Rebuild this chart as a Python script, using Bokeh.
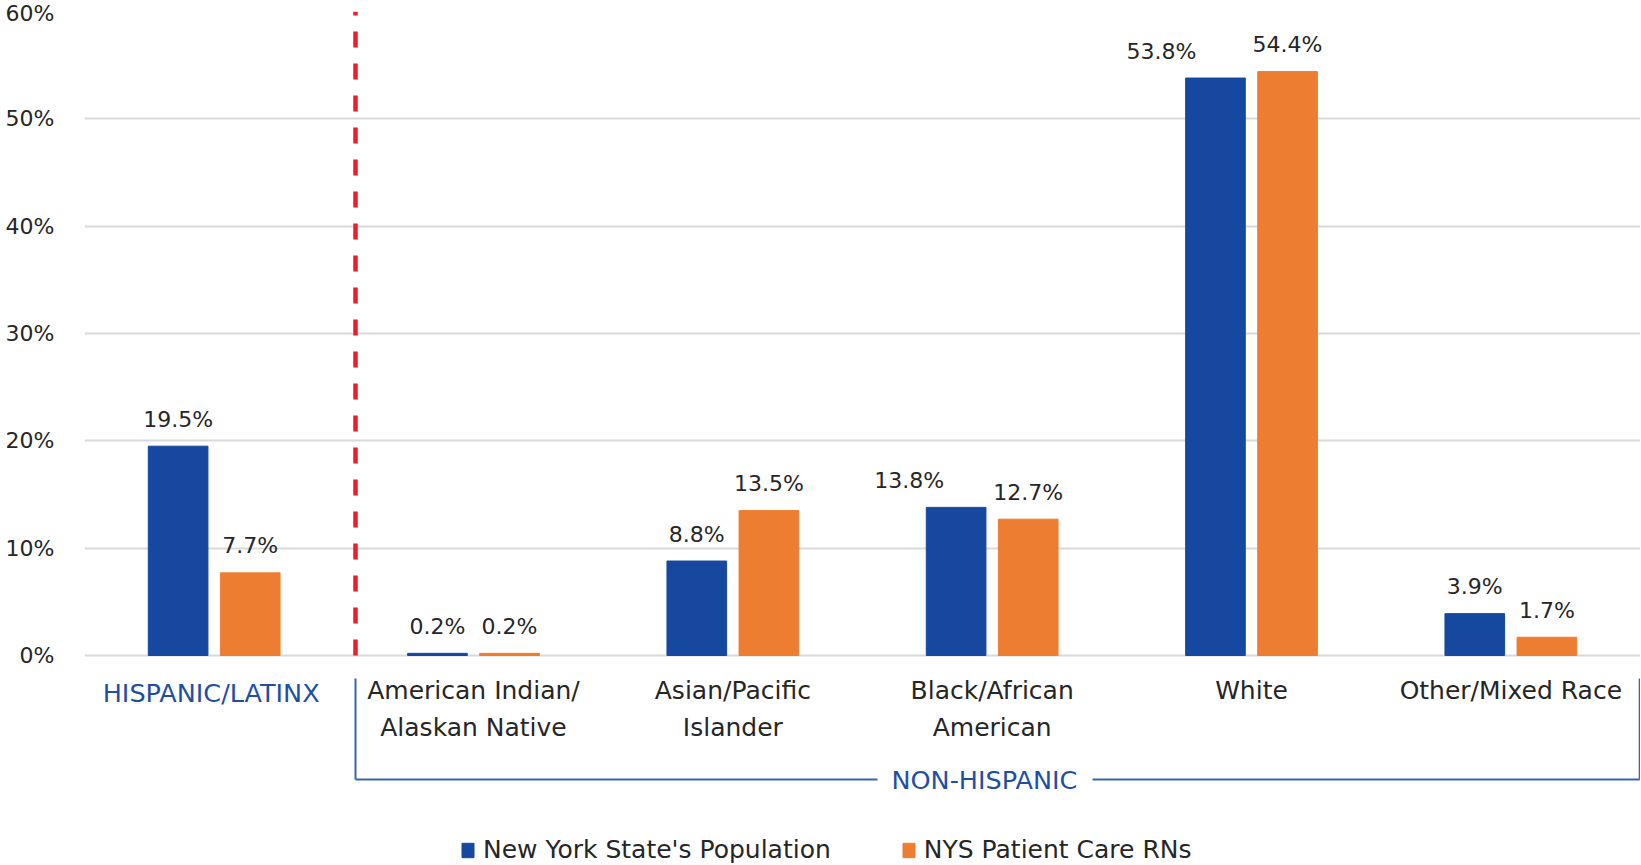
from bokeh.plotting import figure
from bokeh.models import (ColumnDataSource, FactorRange, Range1d, FixedTicker,
                          Legend, LegendItem, CustomJSTickFormatter)
from bokeh.transform import dodge
from bokeh.core.properties import value
from bokeh.embed import file_html
from bokeh.resources import INLINE

# ---------------- data ----------------
categories = ["HISPANIC/LATINX", "American Indian/\nAlaskan Native",
              "Asian/Pacific\nIslander", "Black/African\nAmerican",
              "White", "Other/Mixed Race"]
nys_population = [19.5, 0.2, 8.8, 13.8, 53.8, 3.9]
nys_patient_care_rns = [7.7, 0.2, 13.5, 12.7, 54.4, 1.7]
series_names = ["New York State's Population", "NYS Patient Care RNs"]
y_ticks = [0, 10, 20, 30, 40, 50, 60]
y_tick_labels = ["0%", "10%", "20%", "30%", "40%", "50%", "60%"]
group_label = "NON-HISPANIC"

# ---------------- style ----------------
BLUE = "#15489E"
ORANGE = "#ED7D31"
TEXT = "#262626"
LABEL_BLUE = "#1F4FA3"
BRACKET = "#3A64B0"
RED = "#EE1D2B"
FONT = "DejaVu Sans"
FS_TXT = "25px"
FS_NUM = "22px"
pop_label_dx = [0, 0, 0, -47, -54, 0]   # pixel nudges of two labels

W, H = 1640, 864
LEFT = 84
TOP = 11
ZERO_PX = 655
Y_MAX = 60
ppu = (ZERO_PX - TOP) / Y_MAX
Y_MIN = -(H - ZERO_PX) / ppu


def px_below_zero(px):
    return -px / ppu


p = figure(width=W, height=H, title=None,
           x_range=FactorRange(factors=categories),
           y_range=Range1d(Y_MIN, Y_MAX),
           output_backend="svg", toolbar_location=None,
           min_border_left=LEFT, min_border_right=0,
           min_border_top=TOP, min_border_bottom=0)
p.outline_line_color = None
p.xgrid.grid_line_color = None
p.ygrid.grid_line_color = "#D9D9D9"
p.ygrid.grid_line_width = 2

# y axis
p.yaxis.ticker = FixedTicker(ticks=y_ticks)
p.yaxis.major_label_overrides = {t: l for t, l in zip(y_ticks, y_tick_labels)}
p.yaxis.axis_line_color = None
p.yaxis.major_tick_line_color = None
p.yaxis.minor_tick_line_color = None
p.yaxis.major_tick_out = 0
p.yaxis.major_label_standoff = 30
p.yaxis.major_label_text_font = FONT
p.yaxis.major_label_text_font_size = FS_NUM
p.yaxis.major_label_text_color = TEXT

# x axis (drawn at the 0 line)
p.xaxis.fixed_location = 0
p.xaxis.axis_line_color = None
p.xaxis.major_tick_line_color = None
p.xaxis.major_tick_out = 0
p.xaxis.major_tick_in = 0
p.xaxis.major_label_standoff = 20
p.xaxis.major_label_text_font = FONT
p.xaxis.major_label_text_font_size = FS_TXT
p.xaxis.major_label_text_color = TEXT
p.xaxis.major_label_text_line_height = 1.28
p.xaxis.formatter = CustomJSTickFormatter(
    args=dict(skip=categories[0]),
    code="return tick == skip ? '' : tick")

src = ColumnDataSource(dict(
    cat=categories,
    pop=nys_population,
    rn=nys_patient_care_rns,
    pop_lbl=[f"{v}%" for v in nys_population],
    rn_lbl=[f"{v}%" for v in nys_patient_care_rns],
    pop_dx=pop_label_dx,
))

OFF = 0.139
BW = 0.23
r_pop = p.vbar(x=dodge("cat", -OFF, range=p.x_range), top="pop", width=BW,
               fill_color=BLUE, line_color=BLUE, source=src)
r_rn = p.vbar(x=dodge("cat", OFF, range=p.x_range), top="rn", width=BW,
              fill_color=ORANGE, line_color=ORANGE, source=src)

common = dict(text_align="center", text_baseline="middle",
              text_font=value(FONT), text_font_size=FS_NUM, text_color=TEXT,
              source=src)
p.text(x=dodge("cat", -OFF, range=p.x_range), y="pop", text="pop_lbl",
       x_offset="pop_dx", y_offset=-27, **common)
p.text(x=dodge("cat", OFF, range=p.x_range), y="rn", text="rn_lbl",
       y_offset=-27, **common)

# Hispanic / non-Hispanic separator
SEP = 1.045
p.segment(x0=[SEP], y0=[0], x1=[SEP], y1=[Y_MAX], line_color=RED,
          line_width=4.5, line_dash="16 16")

# HISPANIC/LATINX label in blue
p.text(x=[categories[0]], y=[0], text=[categories[0]], x_offset=-3,
       y_offset=37, text_align="center", text_baseline="middle",
       text_font=value(FONT), text_font_size="25.5px", text_color=LABEL_BLUE)

# NON-HISPANIC bracket
yt = px_below_zero(23)
yb = px_below_zero(124)
RIGHT = 5.997
p.segment(x0=[SEP, SEP, 3.887, RIGHT], y0=[yt, yb, yb, yb],
          x1=[SEP, 3.058, RIGHT, RIGHT], y1=[yb, yb, yb, yt],
          line_color=BRACKET, line_width=2)
p.text(x=[3.47], y=[yb], text=[group_label], text_align="center",
       text_baseline="middle", text_font=value(FONT), text_font_size="25.5px",
       text_color=LABEL_BLUE)

legend = Legend(items=[LegendItem(label=series_names[0], renderers=[r_pop]),
                       LegendItem(label=series_names[1], renderers=[r_rn])],
                orientation="horizontal", location=(376, 0),
                label_text_font=FONT, label_text_font_size=FS_TXT,
                label_text_color=TEXT, glyph_width=15, glyph_height=18,
                label_standoff=8, spacing=70, padding=0, margin=0,
                border_line_color=None, background_fill_alpha=0)
p.add_layout(legend)

open("out.html", "w").write(file_html(p, INLINE))
